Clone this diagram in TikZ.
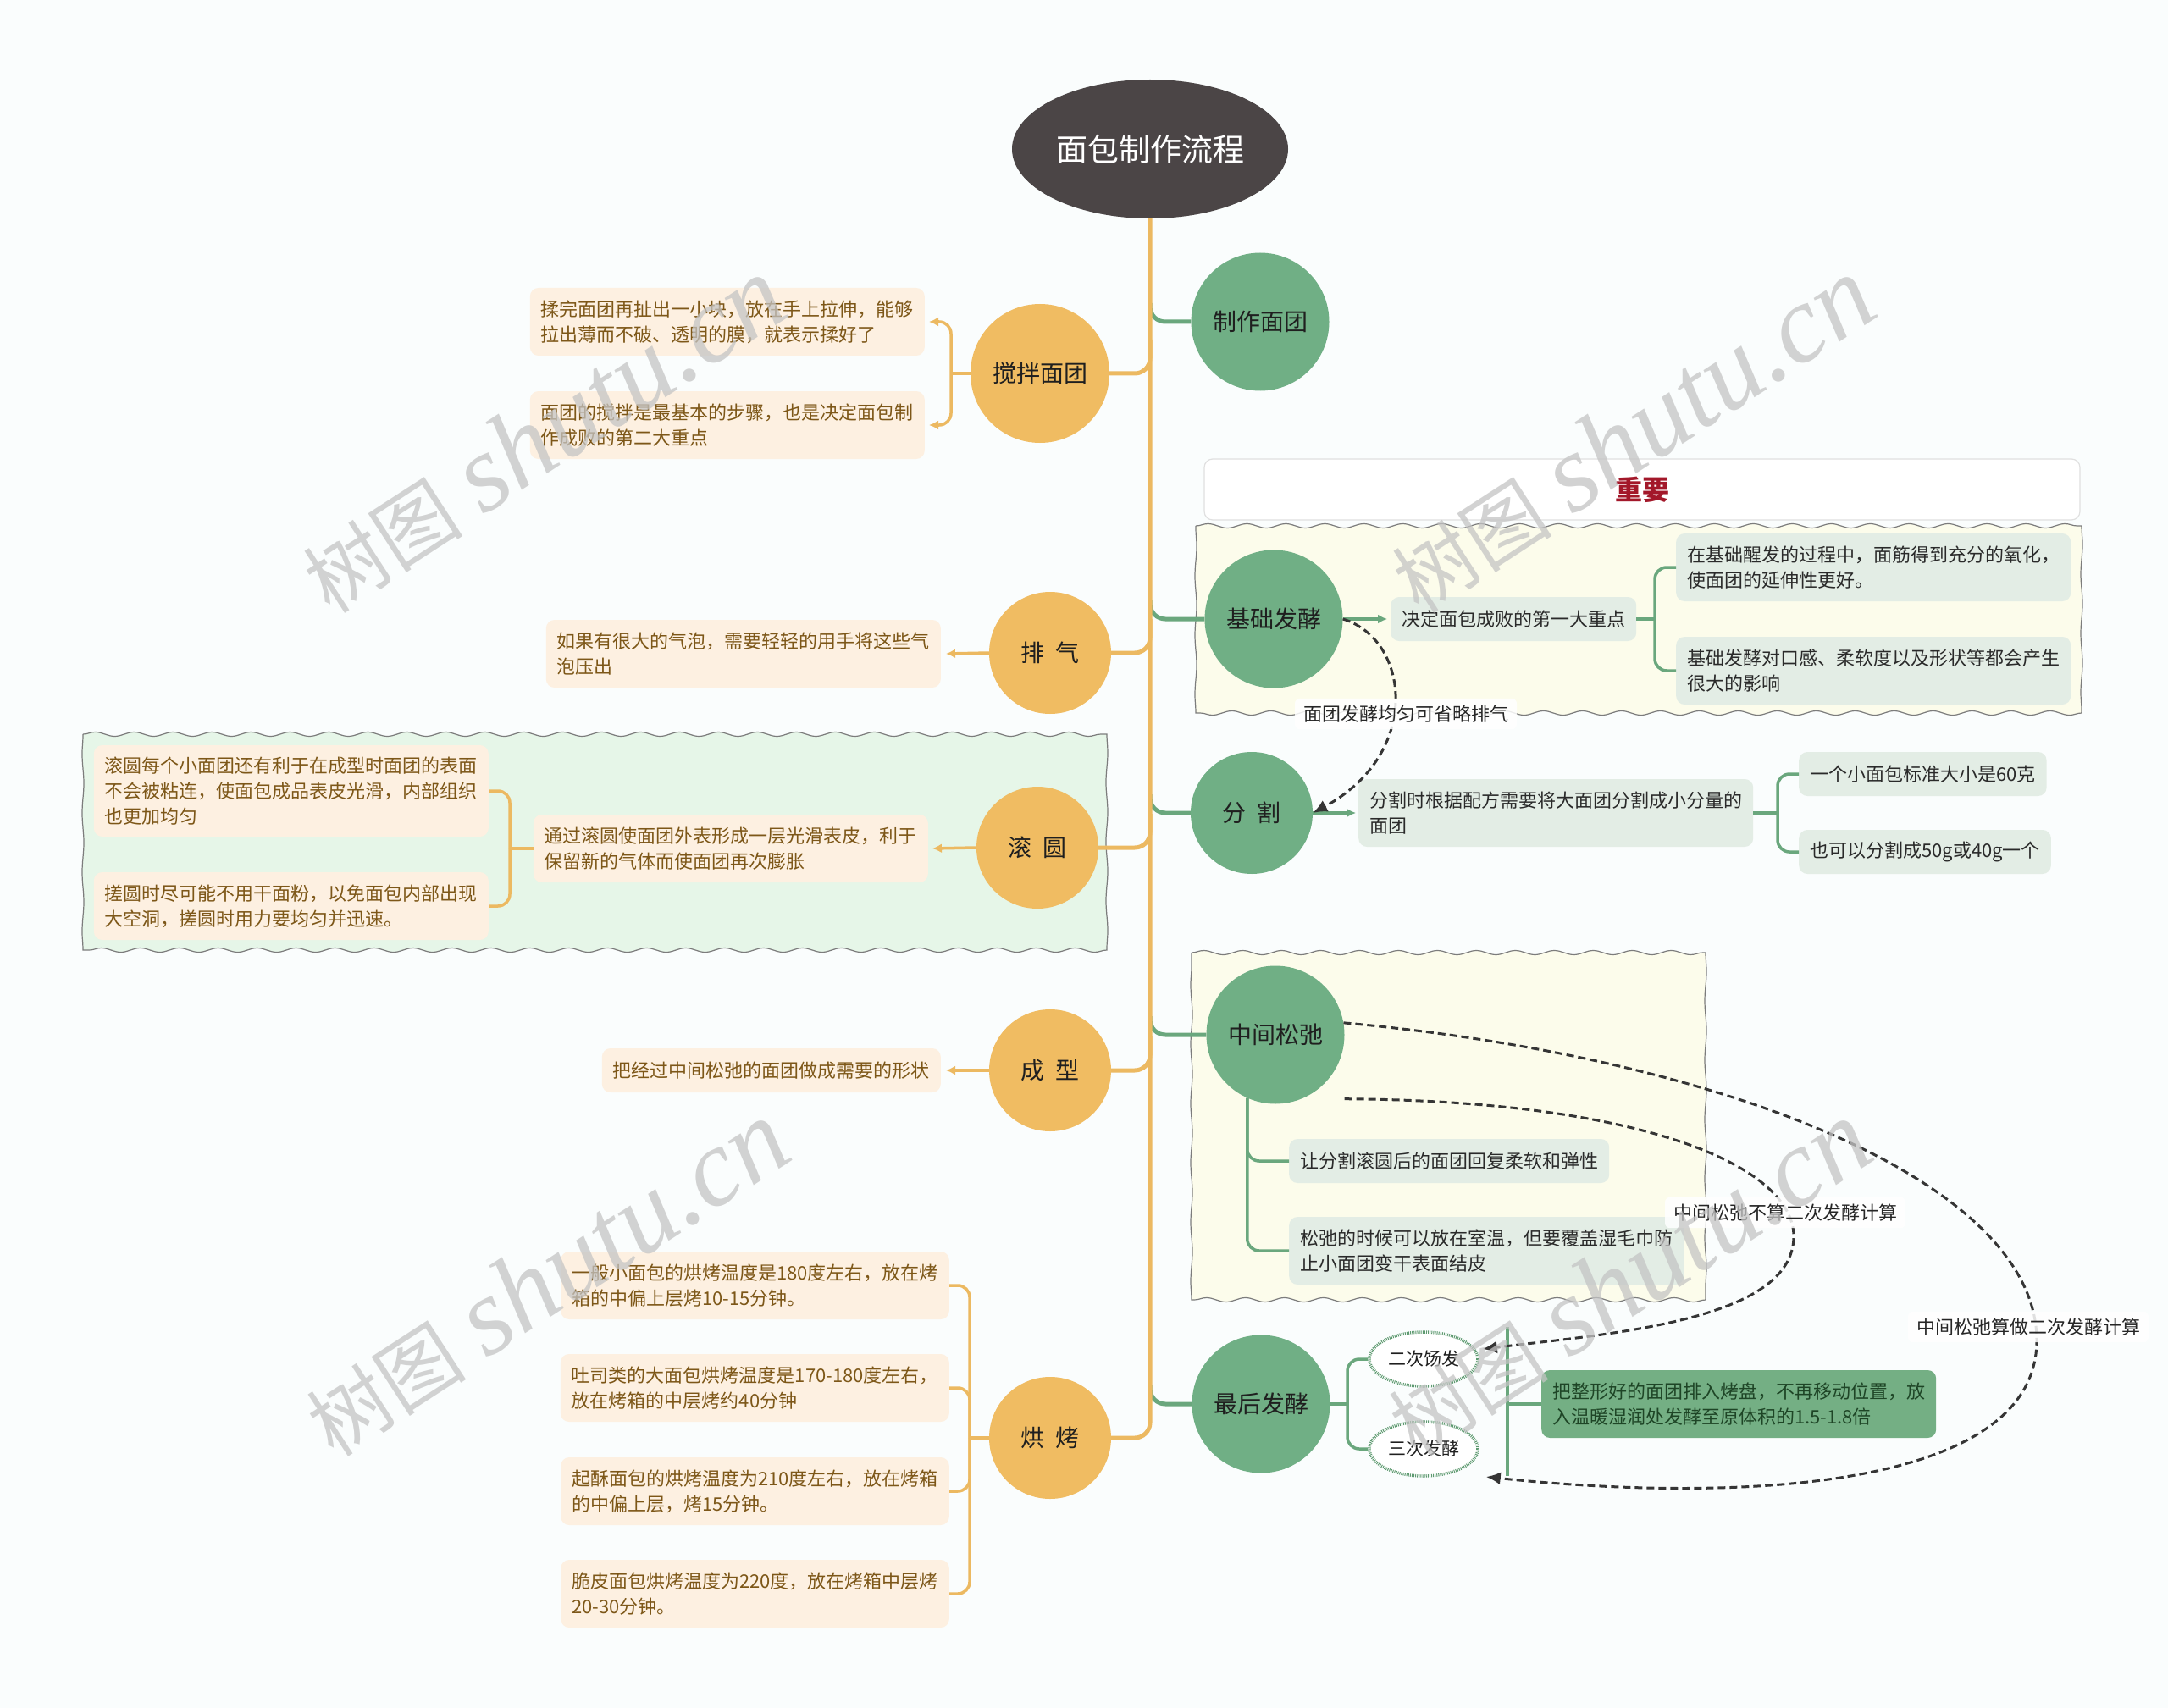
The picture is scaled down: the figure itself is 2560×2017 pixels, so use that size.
\documentclass[tikz,border=0pt]{standalone}
\usepackage{fontspec}
\setmainfont{Noto Sans CJK SC}
\newfontfamily\wmlatin{Liberation Serif}
\usetikzlibrary{arrows.meta,shapes.geometric,decorations.pathmorphing}
\newcommand\fsz[2]{\fontsize{#1}{#2}\selectfont}
\definecolor{bgc}{HTML}{FAFDFD}
\definecolor{rootc}{HTML}{4B4546}
\definecolor{orc}{HTML}{F0BC62}
\definecolor{orl}{HTML}{ECB961}
\definecolor{grc}{HTML}{70AF85}
\definecolor{grl}{HTML}{6AA77D}
\definecolor{grdot}{HTML}{5E9A70}
\definecolor{leafo}{HTML}{FDF0E1}
\definecolor{leafot}{HTML}{7D5718}
\definecolor{leafg}{HTML}{E3EDE5}
\definecolor{leafgt}{HTML}{2A2A2A}
\definecolor{creamc}{HTML}{FCFCEB}
\definecolor{mintc}{HTML}{E6F6E8}
\definecolor{wavyb}{HTML}{7C7C7C}
\definecolor{redt}{HTML}{A3182A}
\definecolor{dashc}{HTML}{353535}
\definecolor{fboxc}{HTML}{74AF84}
\definecolor{fboxt}{HTML}{1E4526}
\definecolor{wmc}{HTML}{C4C4C4}
\begin{document}
\begin{tikzpicture}[x=1pt,y=-1pt,
  rootn/.style={ellipse, fill=rootc, text=white, minimum width=326pt, minimum height=164pt, inner sep=0pt, font=\fsz{37}{44}},
  ocirc/.style={circle, fill=orc, text=black!88, minimum size=#1, inner sep=0pt, font=\fsz{28}{34}},
  gcirc/.style={circle, fill=grc, text=black!88, minimum size=#1, inner sep=0pt, font=\fsz{28}{34}},
  leafO/.style={fill=leafo, text=leafot, rounded corners=10pt, align=left, inner xsep=13pt, inner ysep=4pt, font=\fsz{22}{30}},
  leafG/.style={fill=leafg, text=leafgt, rounded corners=10pt, align=left, inner xsep=13pt, inner ysep=4pt, font=\fsz{22}{30}},
  hone/.style={minimum height=52pt},
  htwo/.style={minimum height=80pt},
  hthree/.style={minimum height=108pt},
  trunkline/.style={draw=orl, line width=5pt},
  gbranch/.style={draw=grl, line width=5pt},
  osub/.style={draw=orl, line width=3.5pt},
  gsub/.style={draw=grl, line width=3.5pt},
  oarr/.style={-{Latex[length=11pt,width=11pt]}},
  garr/.style={-{Latex[length=11pt,width=11pt]}},
  dline/.style={draw=dashc, line width=3pt, dash pattern=on 9pt off 5pt, -{Latex[length=17pt,width=15pt]}},
  rlabel/.style={fill=white, fill opacity=0.85, text opacity=1, rounded corners=6pt, inner xsep=10pt, inner ysep=8pt, text=black!85, font=\fsz{22}{26}},
  wavyline/.style={draw=wavyb, line width=1.2pt},
  hwave/.style={decoration={snake, segment length=46pt, amplitude=2.5pt}},
  vwave/.style={decoration={snake, segment length=70pt, amplitude=1pt}},
  dotell/.style={ellipse, draw=grdot, line width=3.5pt, dash pattern=on 1pt off 1.1pt, fill=white, minimum width=128pt, minimum height=64pt, inner sep=0pt, text=black!88, font=\fsz{21}{24}},
  wmark/.style={text=wmc, opacity=0.75, rotate=33, inner sep=0pt}
]
\useasboundingbox (0,0) rectangle (2560,2017);
\fill[bgc] (0,0) rectangle (2560,2017);

% regions
\path[wavyline, fill=creamc] (1412,621) decorate[hwave]{-- (2458,621)} decorate[vwave]{-- (2458,842)} decorate[hwave]{-- (1412,842)} decorate[vwave]{-- (1412,621)} -- cycle;
\path[wavyline, fill=mintc] (98,867) decorate[hwave]{-- (1307,867)} decorate[vwave]{-- (1307,1122)} decorate[hwave]{-- (98,1122)} decorate[vwave]{-- (98,867)} -- cycle;
\path[wavyline, fill=creamc] (1407,1125) decorate[hwave]{-- (2014,1125)} decorate[vwave]{-- (2014,1535)} decorate[hwave]{-- (1407,1535)} decorate[vwave]{-- (1407,1125)} -- cycle;
\node[draw=black!12, line width=1.2pt, fill=white, rounded corners=10pt, minimum width=1034pt, minimum height=72pt, text=redt, font=\fsz{32}{36}\bfseries] (imp) at (1939,578) {重要};

% main nodes
\node[rootn] (root) at (1358,176) {面包制作流程};
\node[ocirc=164pt] (mix) at (1228,441) {搅拌面团};
\node[ocirc=144pt] (vent) at (1240,771) {排\hspace{0.45em}气};
\node[ocirc=144pt] (round) at (1225,1001) {滚\hspace{0.45em}圆};
\node[ocirc=144pt] (shape) at (1240,1264) {成\hspace{0.45em}型};
\node[ocirc=144pt] (bake) at (1240,1698) {烘\hspace{0.45em}烤};
\node[gcirc=163pt] (make) at (1488,380) {制作面团};
\node[gcirc=163pt] (basic) at (1504,731) {基础发酵};
\node[gcirc=144pt] (divide) at (1478,960) {分\hspace{0.45em}割};
\node[gcirc=163pt] (relax) at (1506,1222) {中间松弛};
\node[gcirc=163pt] (final) at (1489,1658) {最后发酵};

% left leaves
\node[leafO, htwo, anchor=east] (m1) at (1092,380) {揉完面团再扯出一小块，放在手上拉伸，能够\\拉出薄而不破、透明的膜，就表示揉好了};
\node[leafO, htwo, anchor=east] (m2) at (1092,502) {面团的搅拌是最基本的步骤，也是决定面包制\\作成败的第二大重点};
\node[leafO, htwo, anchor=east] (v1) at (1111,772) {如果有很大的气泡，需要轻轻的用手将这些气\\泡压出};
\node[leafO, htwo, anchor=east] (r1) at (1096,1002) {通过滚圆使面团外表形成一层光滑表皮，利于\\保留新的气体而使面团再次膨胀};
\node[leafO, hthree, anchor=east] (r1a) at (577,934) {滚圆每个小面团还有利于在成型时面团的表面\\不会被粘连，使面包成品表皮光滑，内部组织\\也更加均匀};
\node[leafO, htwo, anchor=east] (r1b) at (577,1070) {搓圆时尽可能不用干面粉，以免面包内部出现\\大空洞，搓圆时用力要均匀并迅速。};
\node[leafO, hone, anchor=east] (s1) at (1111,1264) {把经过中间松弛的面团做成需要的形状};
\node[leafO, htwo, anchor=east] (b1) at (1121,1518) {一般小面包的烘烤温度是180度左右，放在烤\\箱的中偏上层烤10-15分钟。};
\node[leafO, htwo, anchor=east] (b2) at (1121,1639) {吐司类的大面包烘烤温度是170-180度左右，\\放在烤箱的中层烤约40分钟};
\node[leafO, htwo, anchor=east] (b3) at (1121,1761) {起酥面包的烘烤温度为210度左右，放在烤箱\\的中偏上层，烤15分钟。};
\node[leafO, htwo, anchor=east] (b4) at (1121,1882) {脆皮面包烘烤温度为220度，放在烤箱中层烤\\20-30分钟。};

% right leaves
\node[leafG, hone, anchor=west] (k1) at (1642,731) {决定面包成败的第一大重点};
\node[leafG, htwo, anchor=west] (k1a) at (1979,670) {在基础醒发的过程中，面筋得到充分的氧化，\\使面团的延伸性更好。};
\node[leafG, htwo, anchor=west] (k1b) at (1979,792) {基础发酵对口感、柔软度以及形状等都会产生\\很大的影响};
\node[leafG, htwo, anchor=west] (d1) at (1604,960) {分割时根据配方需要将大面团分割成小分量的\\面团};
\node[leafG, hone, anchor=west] (d1a) at (2124,914) {一个小面包标准大小是60克};
\node[leafG, hone, anchor=west] (d1b) at (2124,1006) {也可以分割成50g或40g一个};
\node[leafG, hone, anchor=west] (c1) at (1522,1371) {让分割滚圆后的面团回复柔软和弹性};
\node[leafG, htwo, anchor=west] (c2) at (1522,1477) {松弛的时候可以放在室温，但要覆盖湿毛巾防\\止小面团变干表面结皮};
\node[dotell] (e2) at (1681,1605) {二次饧发};
\node[dotell] (e3) at (1681,1711) {三次发酵};
\node[fill=fboxc, text=fboxt, rounded corners=10pt, align=left, inner xsep=13pt, inner ysep=4pt, font=\fsz{22}{30}, minimum height=80pt, anchor=west] (fb) at (1820,1658) {把整形好的面团排入烤盘，不再移动位置，放\\入温暖湿润处发酵至原体积的1.5-1.8倍};

% junction coordinates
\coordinate (jmix) at (1123,441);
\coordinate (jr1) at (602,1002);
\coordinate (jbake) at (1145,1698);
\coordinate (jk1) at (1954,731);
\coordinate (jd1) at (2099,960);
\coordinate (jfin) at (1591,1658);
\coordinate (sumt) at (1780,1567);
\coordinate (sumb) at (1780,1743);

% green main branches (under trunk)
\foreach \n in {make,basic,divide,relax,final}{
  \draw[gbranch, rounded corners=18pt] ([yshift=22pt]root.south |- \n) -- (root.south |- \n) -- (\n.west);
}
% trunk
\draw[trunkline, rounded corners=18pt] (root.south) -- (root.south |- bake) -- (bake.east);
\foreach \n in {mix,vent,round,shape}{
  \draw[trunkline, rounded corners=18pt] ([yshift=40pt]root.south |- \n) -- (root.south |- \n) -- (\n.east);
}

% left sub-connectors
\draw[osub] (mix.west) -- (jmix);
\draw[osub, oarr, rounded corners=14pt] (jmix) |- ([xshift=5pt]m1.east);
\draw[osub, oarr, rounded corners=14pt] (jmix) |- ([xshift=5pt]m2.east);
\draw[osub, oarr] (vent.west) -- ([xshift=6pt]v1.east);
\draw[osub, oarr] (round.west) -- ([xshift=5pt]r1.east);
\draw[osub] (r1.west) -- (jr1);
\draw[osub, rounded corners=14pt] (jr1) |- (r1a.east);
\draw[osub, rounded corners=14pt] (jr1) |- (r1b.east);
\draw[osub, oarr] (shape.west) -- ([xshift=6pt]s1.east);
\draw[osub] (bake.west) -- (jbake);
\foreach \n in {b1,b2,b3,b4}{
  \draw[osub, rounded corners=14pt] (jbake) |- (\n.east);
}

% right sub-connectors
\draw[gsub, garr] (basic.east) -- ([xshift=-4pt]k1.west);
\draw[gsub] (k1.east) -- (jk1);
\draw[gsub, rounded corners=14pt] (jk1) |- (k1a.west);
\draw[gsub, rounded corners=14pt] (jk1) |- (k1b.west);
\draw[gsub, garr] (divide.east) -- ([xshift=-3pt]d1.west);
\draw[gsub] (d1.east) -- (jd1);
\draw[gsub, rounded corners=14pt] (jd1) |- (d1a.west);
\draw[gsub, rounded corners=14pt] (jd1) |- (d1b.west);
\draw[gsub, rounded corners=14pt] (relax.-114) |- (c1.west);
\draw[gsub, rounded corners=14pt] (relax.-114) |- (c2.west);
\draw[gsub] (final.east) -- (jfin);
\draw[gsub, rounded corners=14pt] (jfin) |- (e2.west);
\draw[gsub, rounded corners=14pt] (jfin) |- (e3.west);
\draw[gsub] (sumt) -- (sumb);
\draw[gsub] (sumt |- fb.west) -- (fb.west);

% dashed relations
\draw[dline] (basic.east) .. controls (1665,755) and (1680,890) .. (divide.east);
\draw[dline] (relax.10) .. controls (2050,1250) and (2405,1400) .. (2405,1583) .. controls (2405,1760) and (2050,1775) .. ([shift={(8pt,-33pt)}]e3.east);
\draw[dline] ([yshift=6pt]relax.south -| relax.east) .. controls (1950,1300) and (2118,1380) .. (2118,1460) .. controls (2118,1560) and (1900,1575) .. ([shift={(4pt,12pt)}]e2.east);
\node[rlabel] (lab1) at (1660,843) {面团发酵均匀可省略排气};
\node[rlabel] (lab2) at (2108,1432) {中间松弛不算二次发酵计算};
\node[rlabel] (lab3) at (2395,1567) {中间松弛算做二次发酵计算};

% watermarks
\foreach \p [count=\i] in {(641,514),(1927,514),(645,1510),(1923,1510)}{
  \node[wmark] (wm\i) at \p {{\fsz{95}{100}树图}\hspace{25pt}{\wmlatin\itshape\fsz{130}{130}shutu.cn}};
}
\end{tikzpicture}
\end{document}
